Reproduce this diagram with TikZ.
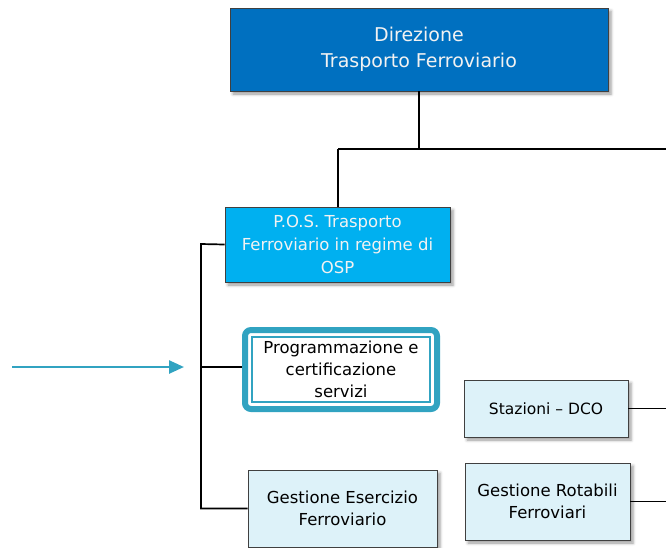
\documentclass[tikz,border=0pt]{standalone}
\usepackage{fontspec}
\setmainfont{DejaVu Sans}
\usetikzlibrary{arrows.meta,shadows.blur}
\definecolor{dirblue}{HTML}{0070C0}
\definecolor{posblue}{HTML}{00B0F0}
\definecolor{paleblue}{HTML}{DDF2F9}
\definecolor{accent}{HTML}{31A3C1}
\definecolor{edgegray}{HTML}{404040}
\definecolor{softwhite}{HTML}{F2F2F2}
\begin{document}
\begin{tikzpicture}[x=1pt,y=1pt,
  unit/.style={draw=edgegray, line width=0.9pt, align=center, inner sep=2pt,
    blur shadow={shadow xshift=3pt, shadow yshift=-3pt, shadow blur radius=3pt, shadow opacity=40}},
  dirbox/.style={unit, fill=dirblue, text=softwhite, font=\fontsize{19}{26}\selectfont},
  posbox/.style={unit, fill=posblue, text=softwhite, font=\fontsize{16.5}{23}\selectfont},
  palebox/.style={unit, fill=paleblue, text=black, font=\fontsize{16.5}{22}\selectfont},
  focusbox/.style={draw=accent, line width=6pt, rounded corners=6pt, fill=white, align=center,
    outer sep=0pt, text=black, font=\fontsize{16.5}{22}\selectfont},
  link/.style={draw=black, line width=1.7pt},
  pointer/.style={draw=accent, line width=2.5pt, -{Triangle[length=15pt,width=13pt]}}
]
\useasboundingbox (0,0) rectangle (666,-547);

% organisational units
\node[dirbox, minimum width=378pt, minimum height=83pt] (dir) at (419,-49.5)
  {Direzione\\Trasporto Ferroviario};
\node[posbox, minimum width=225pt, minimum height=75pt] (pos) at (337.5,-244.5)
  {P.O.S. Trasporto\\Ferroviario in regime di\\OSP};
\node[focusbox, minimum width=192pt, minimum height=79pt] (prog) at (341,-369.5)
  {Programmazione e\\certificazione\\servizi};
% thin inner frame of the highlighted unit
\draw[accent, line width=1.5pt] ([shift={(7,-7)}]prog.north west) rectangle ([shift={(-7,7)}]prog.south east);
\node[palebox, minimum width=164pt, minimum height=57pt, font=\fontsize{15.5}{20}\selectfont] (sta) at (546,-408.5)
  {Stazioni -- DCO};
\node[palebox, minimum width=189pt, minimum height=77pt] (ese) at (342.5,-508.5)
  {Gestione Esercizio\\Ferroviario};
\node[palebox, minimum width=165pt, minimum height=77pt] (rot) at (547.5,-501.5)
  {Gestione Rotabili\\Ferroviari};

% junction points of the tree
\coordinate (drop) at (419,-149);
\coordinate (split) at (338,-149);
\coordinate (rightend) at (666,-149);
\coordinate (bus) at (201,-244);
\coordinate (progtap) at (201,-367);
\coordinate (arrowtail) at (12,-367);
\coordinate (arrowtip) at (184,-367);

% connectors
\draw[link] (dir.south) -- (drop);
\draw[link] (split) -- (rightend);
\draw[link] (split) -- (split |- pos.north);
\draw[link] (pos.west) -- (bus) -- (bus |- ese.west) -- (ese.west);
\draw[link] (progtap) -- ([xshift=-3pt]prog.west |- progtap);
\draw[link] (sta.east) -- (sta.east -| rightend);
\draw[link] (rot.east) -- (rot.east -| rightend);

% pointer to the highlighted unit
\draw[pointer] (arrowtail) -- (arrowtip);
\end{tikzpicture}
\end{document}
